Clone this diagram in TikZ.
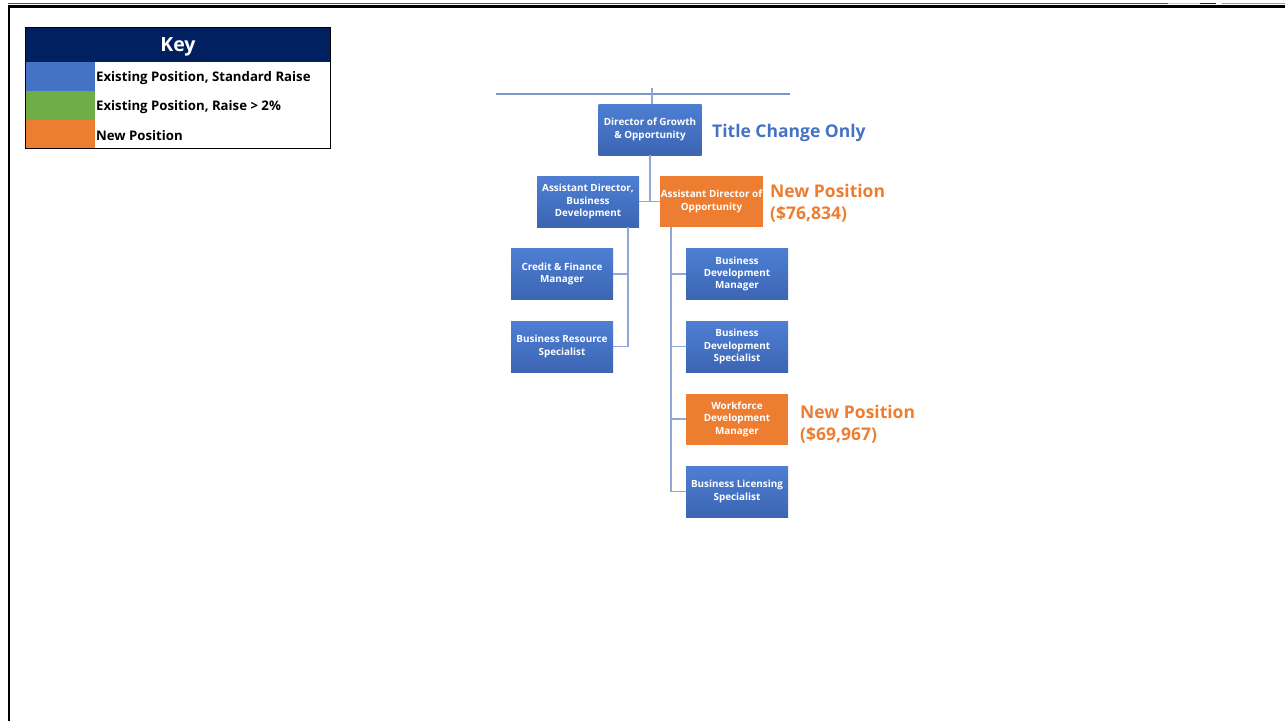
\documentclass[tikz,border=0pt]{standalone}
\usepackage{fontspec}
\setmainfont{Open Sans}
\definecolor{boxblue}{HTML}{4472C4}
\definecolor{boxbluetop}{HTML}{4E7FD3}
\definecolor{boxbluebot}{HTML}{3C65B3}
\definecolor{boxorange}{HTML}{ED7D31}
\definecolor{keynavy}{HTML}{002060}
\definecolor{keygreen}{HTML}{70AD47}
\definecolor{conn}{HTML}{8FA8D6}
\definecolor{topline}{HTML}{7A96C4}
\definecolor{noteblue}{HTML}{4472C4}
\definecolor{noteorange}{HTML}{ED7D31}
\definecolor{frameblue}{HTML}{2F4F8F}
\definecolor{framegold}{HTML}{C9A400}
\definecolor{framegrey}{HTML}{C8C8C8}
\begin{document}
\begin{tikzpicture}[x=1pt,y=-1pt,
  posbox/.style={rectangle, minimum width=102pt, minimum height=51pt, inner sep=1pt,
    text=white, font=\fontsize{9.9}{12.4}\selectfont\bfseries, align=center},
  bluebox/.style={posbox, top color=boxbluetop, bottom color=boxbluebot},
  orangebox/.style={posbox, fill=boxorange},
  link/.style={draw=conn, line width=1.4pt},
  note/.style={font=\fontsize{17.5}{22}\selectfont\bfseries, align=left, inner sep=0pt},
  keytext/.style={font=\fontsize{13.2}{15}\selectfont\bfseries, anchor=west, inner sep=0pt}
]
\useasboundingbox (0,0) rectangle (1285,721);
% frame
\draw[frameblue, line width=1pt] (8,3.5) -- (1168,3.5);
\draw[black, line width=3pt] (8,6) -- (1285,6);
\draw[framegrey, line width=1pt] (1168,3.5) -- (1200,3.5);
\draw[keynavy, line width=1pt] (1200,3.5) -- (1216,3.5);
\draw[framegold, line width=1.5pt] (1222,3.5) -- (1285,3.5);
\draw[black, line width=2.5pt] (9,5) -- (9,721);

% key
\fill[keynavy] (25,27) rectangle (330,62);
\fill[boxblue] (25,62) rectangle (95,91);
\fill[keygreen] (25,91) rectangle (95,120);
\fill[boxorange] (25,120) rectangle (95,148);
\draw[black, line width=1pt] (25,27) rectangle (330,148);
\node[text=white, font=\fontsize{19.5}{22}\selectfont\bfseries] (keyhead) at (178,46.5) {Key};
\node[keytext] (k1) at (96,78.5) {Existing Position, Standard Raise};
\node[keytext] (k2) at (96,107.5) {Existing Position, Raise > 2\%};
\node[keytext] (k3) at (96,135.5) {New Position};

% org chart nodes
\node[bluebox, minimum width=103pt] (dir) at (650,129.5) {Director of Growth\\\& Opportunity};
\node[bluebox] (adbd) at (588,201.5) {Assistant Director,\\Business\\Development};
\node[orangebox, minimum width=103pt] (ado) at (711.5,201.5) {Assistant Director of\\Opportunity};
\node[bluebox] (cfm) at (562,274) {Credit \& Finance\\Manager};
\node[bluebox] (brs) at (562,346.5) {Business Resource\\Specialist};
\node[bluebox] (bdm) at (737,274) {Business\\Development\\Manager};
\node[bluebox] (bds) at (737,346.5) {Business\\Development\\Specialist};
\node[orangebox] (wdm) at (737,419) {Workforce\\Development\\Manager};
\node[bluebox] (bls) at (737,491.5) {Business Licensing\\Specialist};

% annotations
\node[note, text=noteblue, anchor=west] (n1) at (712,133) {Title Change Only};
\node[note, text=noteorange, anchor=west] (n2) at (770,203) {New Position\\(\$76,834)};
\node[note, text=noteorange, anchor=west] (n3) at (800,424) {New Position\\(\$69,967)};

% connectors
\coordinate (tl) at (496,94);
\coordinate (tr) at (790,94);
\coordinate (tick) at (652,88);
\draw[topline, line width=1.4pt] (tl) -- (tr);
\draw[link] (tick) -- (tick |- dir.north);
\coordinate (lt) at (628,0);
\coordinate (rt) at (671,0);
\draw[link] (dir.south) -- (dir.south |- adbd.east);
\draw[link] (adbd.east) -- (ado.west);
\draw[link] (lt |- adbd.south) |- (brs.east);
\draw[link] (lt |- cfm.east) -- (cfm.east);
\draw[link] (rt |- ado.south) |- (bls.west);
\draw[link] (rt |- bdm.west) -- (bdm.west);
\draw[link] (rt |- bds.west) -- (bds.west);
\draw[link] (rt |- wdm.west) -- (wdm.west);
\end{tikzpicture}
\end{document}
